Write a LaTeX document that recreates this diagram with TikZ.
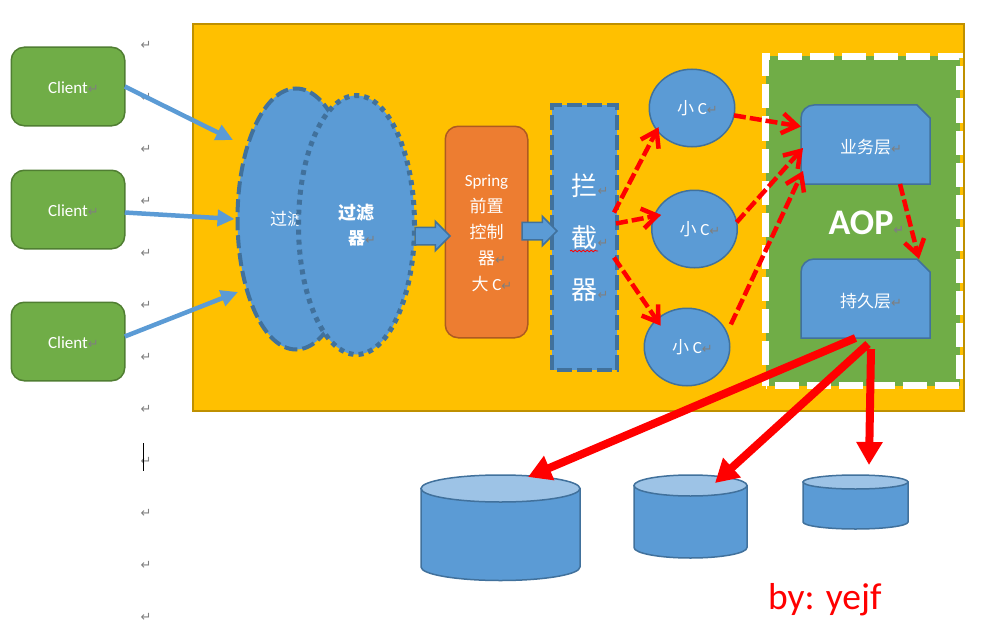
\documentclass[tikz,border=0pt]{standalone}
\usepackage{fontspec}
\setmainfont{Carlito}
\newfontfamily\cjk{Noto Sans CJK SC}
\newfontfamily\symfont{DejaVu Sans}
\usetikzlibrary{arrows.meta,shapes.geometric,shapes.arrows,decorations.pathmorphing}

\definecolor{sunbg}{HTML}{FFC000}
\definecolor{sunedge}{HTML}{BF9000}
\definecolor{leaf}{HTML}{70AD47}
\definecolor{leafedge}{HTML}{507E32}
\definecolor{sky}{HTML}{5B9BD5}
\definecolor{skyedge}{HTML}{41719C}
\definecolor{skytop}{HTML}{9DC3E6}
\definecolor{rust}{HTML}{ED7D31}
\definecolor{rustedge}{HTML}{AE5A21}
\definecolor{retgray}{HTML}{7F7F7F}

\newcommand{\retglyph}{{\fontsize{13}{13}\selectfont\symfont\textcolor{retgray}{↵}}}
\newcommand{\retmark}{\rlap{\retglyph}}
% name, centre x, top y, x radius, y radius, bottom y
\newcommand{\dbdrum}[6]{
  \draw[drumline, fill=sky] (#2-#4,#3+#5) -- (#2-#4,#6-#5) arc[start angle=180, end angle=0, x radius=#4, y radius=#5] -- (#2+#4,#3+#5) -- cycle;
  \draw[drumline, fill=skytop] (#2,#3+#5) ellipse[x radius=#4, y radius=#5];
  \node (#1) at (#2,#3) {};
}

\tikzset{
  every node/.style={inner sep=0pt, outer sep=0pt, text=white, font=\fontsize{17}{26}\selectfont, align=center},
  clientbox/.style={draw=leafedge, fill=leaf, line width=1.5pt, rounded corners=13pt, minimum width=113.5pt, minimum height=78.5pt, text height=14pt},
  filterback/.style={ellipse, draw=skyedge, fill=sky, line width=4pt, dash pattern=on 13pt off 5pt, minimum width=117pt, minimum height=261pt},
  filterfront/.style={ellipse, draw=skyedge, fill=sky, line width=5pt, dash pattern=on 5pt off 5pt, minimum width=116pt, minimum height=259pt},
  springbox/.style={draw=rustedge, fill=rust, line width=1.5pt, rounded corners=13pt, minimum width=82.5pt, minimum height=211.5pt},
  chainbox/.style={draw=skyedge, fill=sky, line width=4pt, dash pattern=on 15pt off 5pt, dash phase=15pt, minimum width=65pt, minimum height=265pt},
  smallc/.style={ellipse, draw=skyedge, fill=sky, line width=1.5pt, minimum width=85.5pt, minimum height=77.5pt},
  layerbox/.style={draw=skyedge, fill=sky, line width=1.5pt},
  layertext/.style={minimum width=129pt, minimum height=79pt},
  flowarrow/.style={single arrow, draw=skyedge, fill=sky, line width=1.5pt, inner sep=8pt, single arrow head extend=6pt, single arrow head indent=0pt, minimum height=35pt, anchor=tip},
  drumline/.style={draw=skyedge, line width=1.5pt},
  inarrow/.style={draw=sky, line width=4.5pt, -{Triangle[length=17pt,width=16pt]}},
  callarrow/.style={draw=red, line width=4.5pt, dash pattern=on 12pt off 4pt, -{Straight Barb[length=15pt,width=20pt,line width=4.5pt]}},
  storearrow/.style={draw=red, line width=8pt, -{Triangle[length=23pt,width=25pt]}},
}

\begin{document}
\begin{tikzpicture}[x=1pt, y=-1pt]
  \useasboundingbox (0,0) rectangle (984,623);

  \foreach \y in {45,97,...,617} {
    \node (ret\y) at (146,\y) {\retglyph};
  }
  \draw[black, line width=0.8pt] (143,443) -- (143,471);

  \node[draw=sunedge, fill=sunbg, line width=2pt, anchor=north west, minimum width=771pt, minimum height=387pt] (stage) at (193,24) {};

  \node[clientbox] (client1) at (68,86.5) {Client\retmark};
  \node[clientbox] (client2) at (68,209.5) {Client\retmark};
  \node[clientbox] (client3) at (68,341.5) {Client\retmark};

  \node[filterback] (filter1) at (296,219) {};
  \node (filter1text) at (287,219) {{\cjk 过滤}};
  \node[filterfront] (filter2) at (356.5,225) {{\cjk\bfseries\fontsize{18}{26}\selectfont 过滤}\\[-1pt]{\cjk\bfseries 器}\retmark};

  \node[springbox] (spring) at (486.5,232) {};
  \node (springtext) at ([yshift=-1pt]spring.center) {Spring\\{\cjk 前置}\\{\cjk 控制}\\{\cjk 器}\retmark\\{\cjk 大} C\retmark};

  \node[chainbox, font=\fontsize{26}{52}\selectfont] (chain) at (584.5,237.5) {{\cjk 拦}\retmark\\{\cjk 截}\retmark\\{\cjk 器}\retmark};
  \draw[red, line width=0.8pt, decorate, decoration={snake, amplitude=0.8pt, segment length=4pt}] (570,251) -- (598,251);

  \node[flowarrow] (flow1) at (450,236) {};
  \node[flowarrow] (flow2) at (557,231) {};

  \node[smallc] (c1) at (692,108) {{\cjk 小} C\retmark};
  \node[smallc] (c2) at (694.5,229) {{\cjk 小} C\retmark};
  \node[smallc] (c3) at (687,347) {{\cjk 小} C\retmark};

  \node[draw=white, fill=leaf, line width=7pt, dash pattern=on 24pt off 8pt, dash phase=23pt, minimum width=194pt, minimum height=329pt] (aop) at (862.5,221) {};
  \node[font=\fontsize{36}{36}\selectfont\bfseries] (aoptext) at (861,223) {AOP\retmark};

  \draw[layerbox] (801,184) [rounded corners=13pt] -- (801,105) [sharp corners] -- (917,105) -- (930,118) -- (930,184) -- cycle;
  \node[layertext] (biz) at (865.5,144.5) {};
  \node (biztext) at ([yshift=-3pt]biz.center) {{\cjk 业务层}\retmark};
  \draw[layerbox] (801,338) [rounded corners=13pt] -- (801,259) [sharp corners] -- (917,259) -- (930,272) -- (930,338) -- cycle;
  \node[layertext] (dao) at (865.5,298.5) {};
  \node (daotext) at ([yshift=-3pt]dao.center) {{\cjk 持久层}\retmark};

  \dbdrum{db1}{500.5}{475}{79.5}{13.5}{580.5}
  \dbdrum{db2}{690.5}{475}{56.5}{10.5}{558}
  \dbdrum{db3}{855.5}{475}{52.5}{7}{529}

  \coordinate (in1) at (233,140);
  \coordinate (in3) at (238,292);
  \draw[inarrow] (client1.east) -- (in1);
  \draw[inarrow] ([yshift=-3pt]client2.east) -- ([xshift=-3pt]filter1.west);
  \draw[inarrow] ([yshift=5pt]client3.east) -- (in3);

  \draw[callarrow] ([xshift=-3pt,yshift=25pt]chain.east) -- ([xshift=3pt,yshift=1pt]c1.209);
  \draw[callarrow] ([xshift=-1pt,yshift=14pt]chain.east) -- ([xshift=6pt,yshift=-1pt]c2.159);
  \draw[callarrow] ([xshift=-3pt,yshift=-20pt]chain.east) -- ([xshift=5pt,yshift=-5pt]c3.140);
  \draw[callarrow] (c1.-10) -- ([yshift=18pt]biz.west);
  \draw[callarrow] (c2.9) -- ([xshift=2pt,yshift=-3.5pt]biz.west);
  \draw[callarrow] ([xshift=7pt,yshift=3pt]c3.28) -- ([xshift=2pt,yshift=-26.5pt]biz.west);
  \draw[callarrow] ([xshift=34.5pt]biz.south) -- ([xshift=53.5pt]dao.north);

  \draw[storearrow] ([xshift=-10pt]dao.south) -- ([xshift=27.5pt,yshift=-2pt]db1.center);
  \draw[storearrow] ([xshift=2.5pt,yshift=-6pt]dao.south) -- ([xshift=24.5pt,yshift=-8pt]db2.center);
  \draw[storearrow] ([xshift=5.5pt,yshift=-11pt]dao.south) -- ([xshift=13.5pt,yshift=10pt]db3.center);

  \node[anchor=base west, text=red, font=\fontsize{37.5}{38}\selectfont] (byline) at (768,609) {by: yejf};
\end{tikzpicture}
\end{document}
